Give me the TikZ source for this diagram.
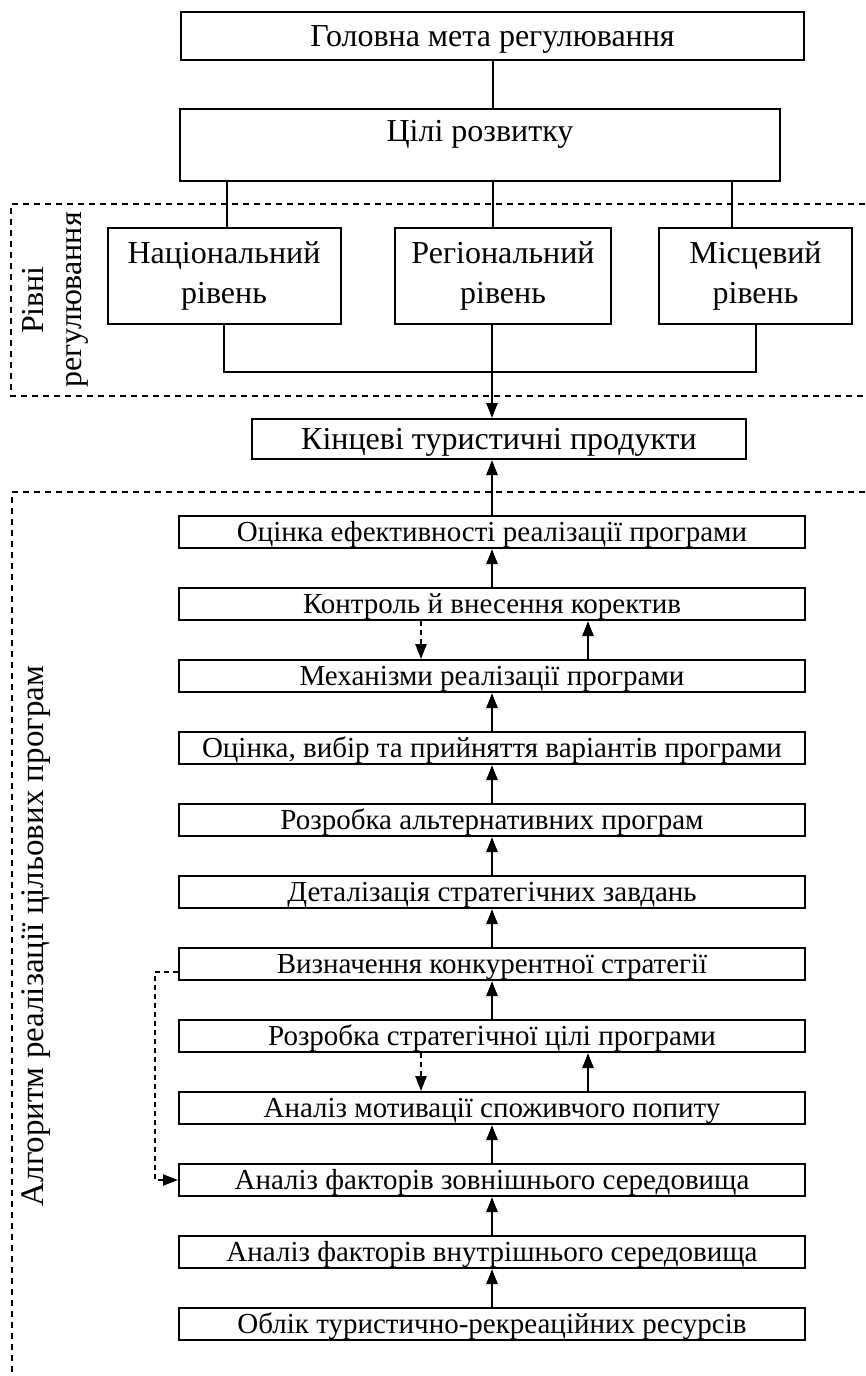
\documentclass[tikz,border=0pt]{standalone}
\usepackage{fontspec}
\setmainfont{Liberation Serif}
\usetikzlibrary{arrows.meta,positioning}

\begin{document}
\begin{tikzpicture}[x=1pt,y=-1pt,
    bigbox/.style={draw, line width=2pt, inner sep=0pt, align=center,
      font=\fontsize{32}{40}\selectfont},
    stagebox/.style={draw, line width=2pt, inner sep=0pt, minimum width=626,
      minimum height=32, text height=19pt, text depth=0pt,
      font=\fontsize{29}{34}\selectfont},
    link/.style={line width=2pt},
    arr/.style={line width=2.4pt, -{Triangle[length=15pt,width=11pt]}},
    frame/.style={line width=2pt, dash pattern=on 6pt off 5pt},
    back/.style={dash pattern=on 5pt off 4pt}]
  \useasboundingbox (0,0) rectangle (865,1376);

  % top part
  \node[bigbox, minimum width=623, minimum height=48, text height=21pt, text depth=0pt] (goal) at (492.5,36) {Головна мета регулювання};
  \node[bigbox, minimum width=600, minimum height=72, text height=21pt, text depth=27pt] (aims) at (480,144.5) {Цілі розвитку};
  \node[bigbox, minimum width=233, minimum height=96] (natl) at (224,276) {Національний\\рівень};
  \node[bigbox, minimum width=216, minimum height=96] (regl) at (503,276) {Регіональний\\рівень};
  \node[bigbox, minimum width=193, minimum height=96] (locl) at (755.5,276) {Місцевий\\рівень};
  \node[bigbox, minimum width=494, minimum height=40, text height=21pt, text depth=0pt] (prod) at (499,439) {Кінцеві туристичні продукти};

  \draw[link] (goal.south) -- (goal.south |- aims.north);
  \draw[link] ([xshift=3]natl.north) -- ([xshift=3]natl.north |- aims.south);
  \draw[link] (goal.south |- regl.north) -- (goal.south |- aims.south);
  \draw[link] ([xshift=-24]locl.north) -- ([xshift=-24]locl.north |- aims.south);
  \coordinate (join) at (492,372);
  \draw[link] (natl.south) -- (natl.south |- join) -- (locl.south |- join) -- (locl.south);
  \draw[arr] (join |- regl.south) -- (join |- prod.north);

  \draw[frame] (865,204) -- (11,204) -- (11,396) -- (865,396);
  \node[rotate=90, align=center, font=\fontsize{32}{38}\selectfont] (lvl) at (55,300) {Рівні\\регулювання};

  % algorithm
  \draw[frame] (865,492) -- (12,492) -- (12,1380);
  \node[rotate=90, text height=22pt, text depth=0pt, font=\fontsize{33}{38}\selectfont] (alg) at (32,936) {Алгоритм реалізації цільових програм};

  \node[stagebox] (eval) at (492,532) {Оцінка ефективності реалізації програми};
  \node[stagebox] (ctrl) at (492,604) {Контроль й внесення коректив};
  \node[stagebox] (mech) at (492,676) {Механізми реалізації програми};
  \node[stagebox] (choice) at (492,748) {Оцінка, вибір та прийняття варіантів програми};
  \node[stagebox] (alt) at (492,820) {Розробка альтернативних програм};
  \node[stagebox] (detail) at (492,892) {Деталізація стратегічних завдань};
  \node[stagebox] (compet) at (492,964) {Визначення конкурентної стратегії};
  \node[stagebox] (target) at (492,1036) {Розробка стратегічної цілі програми};
  \node[stagebox] (motiv) at (492,1108) {Аналіз мотивації споживчого попиту};
  \node[stagebox] (extern) at (492,1180) {Аналіз факторів зовнішнього середовища};
  \node[stagebox] (intern) at (492,1252) {Аналіз факторів внутрішнього середовища};
  \node[stagebox] (res) at (492,1324) {Облік туристично-рекреаційних ресурсів};

  \draw[arr] (eval.north) -- (eval.north |- prod.south);
  \draw[arr] (ctrl) -- (eval);
  \draw[arr, back] ([xshift=-71]ctrl.south) -- ([xshift=-71]mech.north);
  \draw[arr] ([xshift=96]mech.north) -- ([xshift=96]ctrl.south);
  \draw[arr] (choice) -- (mech);
  \draw[arr] (alt) -- (choice);
  \draw[arr] (detail) -- (alt);
  \draw[arr] (compet) -- (detail);
  \draw[arr] (target) -- (compet);
  \draw[arr, back] ([xshift=-71]target.south) -- ([xshift=-71]motiv.north);
  \draw[arr] ([xshift=96]motiv.north) -- ([xshift=96]target.south);
  \draw[arr] (extern) -- (motiv);
  \draw[arr] (intern) -- (extern);
  \draw[arr] (res) -- (intern);
  \draw[arr, back, line width=2pt] ([yshift=-8]compet.west) -- ++(-23,0) |- (extern.west);
\end{tikzpicture}
\end{document}
